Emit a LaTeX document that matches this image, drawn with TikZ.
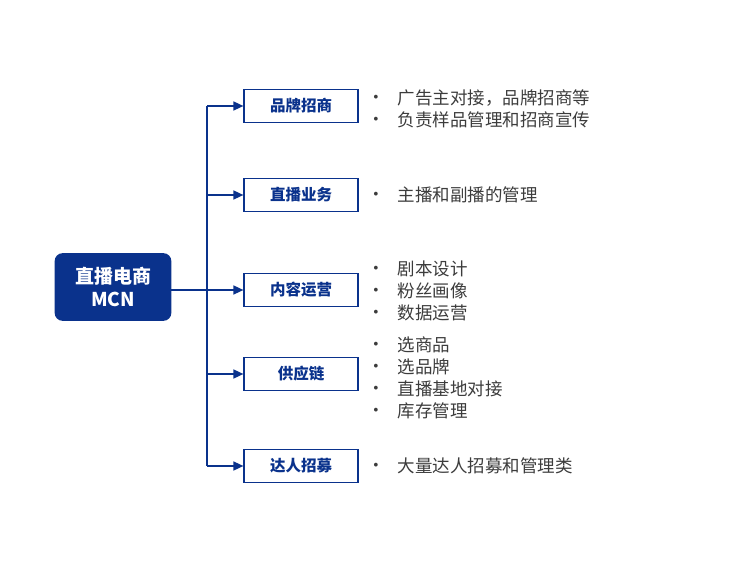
\documentclass[tikz,border=0pt]{standalone}
\usepackage{fontspec}
\newfontfamily\cjk{Noto Sans CJK SC}
\usetikzlibrary{arrows.meta}
\definecolor{navy}{RGB}{10,50,140}
\definecolor{bodytext}{RGB}{60,60,60}
\tikzset{every picture/.style={line width=1.6pt}}
\tikzset{rootbox/.style={draw=navy,fill=navy,rounded corners=7pt,minimum width=115pt,minimum height=66pt,align=center,text=white,font=\cjk\bfseries\fontsize{19}{23}\selectfont},
  branchbox/.style={draw=navy,line width=1.2pt,fill=white,minimum width=114pt,minimum height=33pt,text=navy,font=\cjk\bfseries\fontsize{15.5}{18}\selectfont},
  itemtext/.style={anchor=west,inner sep=0pt,text=bodytext,font=\cjk\fontsize{17.5}{20}\selectfont},
  link/.style={draw=navy,-{Triangle[length=10pt,width=9pt]}}}
\begin{document}
\begin{tikzpicture}[x=1pt,y=1pt,yscale=-1]
\useasboundingbox (0,0) rectangle (729,564);

% Root Node
\node [rootbox] (root) at (113,287) {直播电商\\MCN};

% Branch Nodes
\node [branchbox] (b1) at (301,106) {品牌招商};
\node [branchbox] (b2) at (301,195) {直播业务};
\node [branchbox] (b3) at (301,290) {内容运营};
\node [branchbox] (b4) at (301,374) {供应链};
\node [branchbox] (b5) at (301,466) {达人招募};

% Spine
\coordinate (s1) at (207,106);
\coordinate (s2) at (207,195);
\coordinate (s3) at (207,290);
\coordinate (s4) at (207,374);
\coordinate (s5) at (207,466);
\draw [navy] (s1) -- (s5);
\draw [navy] (root.east |- s3) -- (s3);

% Connection
\foreach \i in {1,...,5}
  \draw [link] (s\i) -- (b\i.west);

% Item Text
\foreach \y/\t in {98/广告主对接，品牌招商等, 120/负责样品管理和招商宣传, 195/主播和副播的管理,
  269/剧本设计, 291/粉丝画像, 313/数据运营, 345/选商品, 367/选品牌, 389/直播基地对接, 411/库存管理,
  466/大量达人招募和管理类}
  \node [itemtext] (item\y) at (397,\y) {\t};
\foreach \y in {98,120,195,269,291,313,345,367,389,411,466}
  \node [text=bodytext,font=\fontsize{14}{16}\selectfont] (dot\y) at (376,\y) {\textbullet};

\end{tikzpicture}
\end{document}
